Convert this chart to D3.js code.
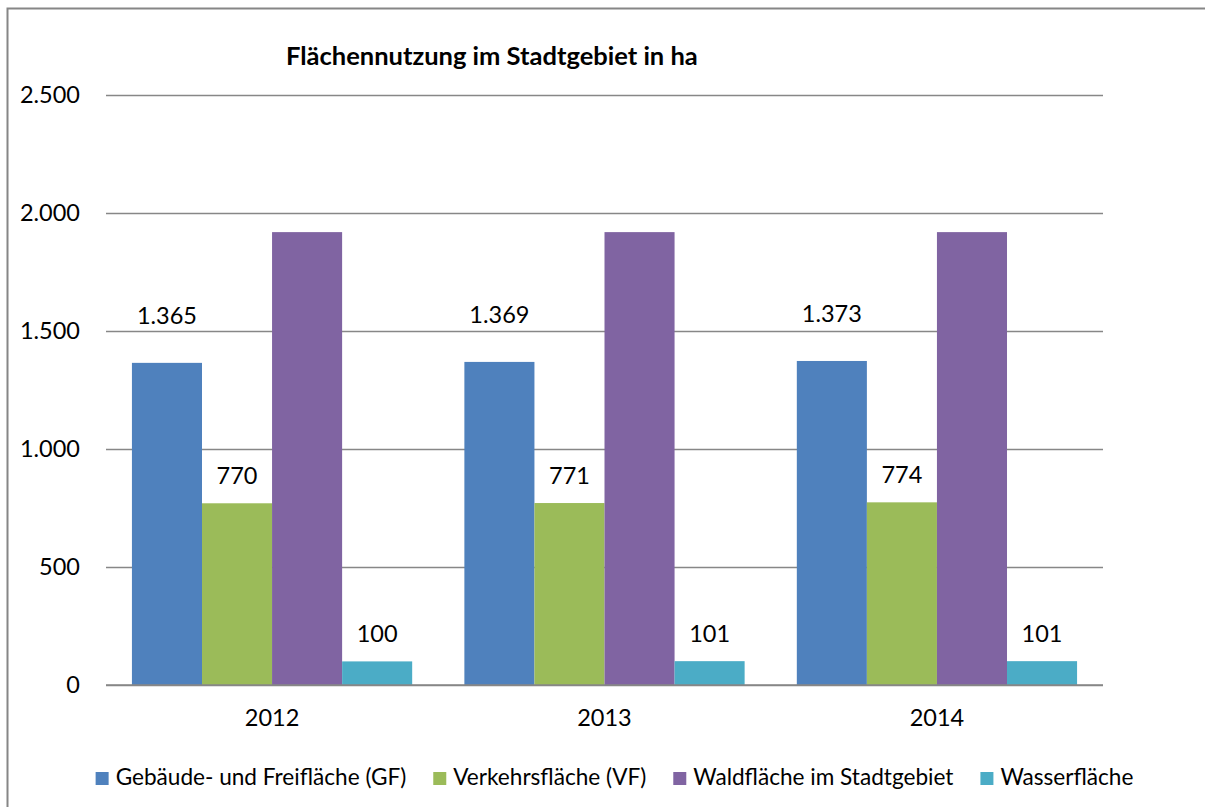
<!DOCTYPE html>
<html>
<head>
<meta charset="utf-8">
<script src="https://cdn.jsdelivr.net/npm/d3@7"></script>
<style>
  body { margin: 0; background: #fff; }
  text { font-family: Lato, "Open Sans", sans-serif; fill: #000; }
</style>
</head>
<body>
<script>
var years = ['2012', '2013', '2014'];
var seriesNames = ['Gebäude- und Freifläche (GF)', 'Verkehrsfläche (VF)', 'Waldfläche im Stadtgebiet', 'Wasserfläche'];
var gfValues = [1365, 1369, 1373];
var vfValues = [770, 771, 774];
var waldValues = [1919, 1919, 1919];
var wasserValues = [100, 101, 101];
var yTicks = [0, 500, 1000, 1500, 2000, 2500];
var chartTitle = 'Flächennutzung im Stadtgebiet in ha';

var colors = ['#4f81bd', '#9bbb59', '#8064a2', '#4bacc6'];
var showLabel = [true, true, false, true]; // waldfläche has no labels in the original
var labelGap = [39, 19, 19, 19];

var allValues = [gfValues, vfValues, waldValues, wasserValues];

var width = 1205;
var height = 807;
var plot = {left: 106, right: 1103, top: 95, bottom: 685};

var de = d3.formatLocale({decimal: ',', thousands: '.', grouping: [3], currency: ['', ' €']});
var fmt = de.format(',d');

var svg = d3.select('body').append('svg')
    .attr('width', width)
    .attr('height', height);

// outer frame, runs off the right and bottom edge like in the screenshot
svg.append('rect')
    .attr('x', 7.5).attr('y', 8.5)
    .attr('width', 1400).attr('height', 1000)
    .attr('fill', 'none')
    .attr('stroke', '#868686')
    .attr('stroke-width', 2);

var y = d3.scaleLinear()
    .domain([0, 2500])
    .range([plot.bottom, plot.top]);

var x0 = d3.scaleBand()
    .domain(years)
    .range([plot.left, plot.right])
    .paddingInner(0.157)
    .paddingOuter(0.078);

var x1 = d3.scaleBand()
    .domain(d3.range(seriesNames.length))
    .range([0, x0.bandwidth()]);

// gridlines + y labels
var yAxis = d3.axisLeft(y)
    .tickValues(yTicks)
    .tickFormat(fmt)
    .tickSize(-(plot.right - plot.left))
    .tickPadding(26);

var gy = svg.append('g')
    .attr('transform', 'translate(' + plot.left + ',0)')
    .call(yAxis);
gy.select('.domain').remove();
gy.selectAll('.tick line').attr('stroke', '#878787').attr('stroke-width', 1.5);
gy.selectAll('.tick text')
    .attr('font-size', 23.5)
    .style('font-family', 'Lato, sans-serif');

// bars
var groups = svg.append('g').selectAll('g')
    .data(years)
    .join('g')
    .attr('transform', function(d) { return 'translate(' + x0(d) + ',0)'; });

groups.selectAll('rect')
    .data(function(d, i) { return allValues.map(function(vals, s) { return {s: s, v: vals[i]}; }); })
    .join('rect')
    .attr('x', function(d) { return x1(d.s); })
    .attr('width', x1.bandwidth())
    .attr('y', function(d) { return y(d.v); })
    .attr('height', function(d) { return y(0) - y(d.v); })
    .attr('fill', function(d) { return colors[d.s]; });

groups.selectAll('text.lbl')
    .data(function(d, i) {
        return allValues.map(function(vals, s) { return {s: s, v: vals[i]}; })
            .filter(function(d) { return showLabel[d.s]; });
    })
    .join('text')
    .attr('class', 'lbl')
    .attr('x', function(d) { return x1(d.s) + x1.bandwidth() / 2; })
    .attr('y', function(d) { return y(d.v) - labelGap[d.s]; })
    .attr('text-anchor', 'middle')
    .attr('font-size', 23.5)
    .text(function(d) { return fmt(d.v); });

// x axis (baseline + year labels)
var xAxis = d3.axisBottom(x0)
    .tickSize(0)
    .tickPadding(24);

var gx = svg.append('g')
    .attr('transform', 'translate(0,' + plot.bottom + ')')
    .call(xAxis);
gx.select('.domain')
    .attr('stroke', '#878787')
    .attr('stroke-width', 1.5)
    .attr('d', 'M' + plot.left + ',0H' + plot.right);
gx.selectAll('.tick text')
    .attr('font-size', 23.5)
    .style('font-family', 'Lato, sans-serif');

// title
svg.append('text')
    .attr('x', 286)
    .attr('y', 65)
    .attr('font-size', 25.5)
    .attr('font-weight', 'bold')
    .text(chartTitle);

// legend
var legend = svg.append('g').attr('transform', 'translate(0,785)');
var items = legend.selectAll('g')
    .data(seriesNames)
    .join('g');
items.append('rect')
    .attr('y', -13)
    .attr('width', 13)
    .attr('height', 13)
    .attr('fill', function(d, i) { return colors[i]; });
items.append('text')
    .attr('x', 20)
    .attr('font-size', 22.6)
    .text(function(d) { return d; });

var pos = 0;
items.each(function() {
    var w = d3.select(this).select('text').node().getComputedTextLength();
    d3.select(this).attr('data-x', pos);
    pos += 20 + w + 27;
});
var total = pos - 27;
var start = 614.5 - total / 2;
items.attr('transform', function() { return 'translate(' + (start + (+this.getAttribute('data-x'))) + ',0)'; });
</script>
</body>
</html>
